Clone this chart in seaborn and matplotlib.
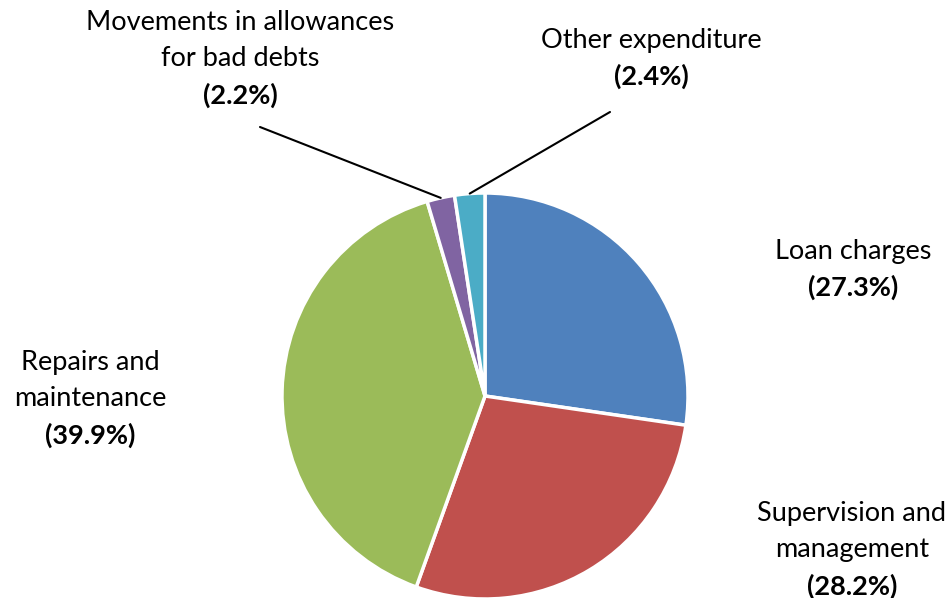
import numpy as np
import matplotlib
matplotlib.use("Agg")
import matplotlib.pyplot as plt
import seaborn as sns

sns.set_theme(style="white")
plt.rcParams["font.family"] = ["Lato", "DejaVu Sans"]

categories = ["Loan charges", "Supervision and\nmanagement", "Repairs and\nmaintenance",
              "Movements in allowances\nfor bad debts", "Other expenditure"]
shares = [27.3, 28.2, 39.9, 2.2, 2.4]
colors = ["#4F81BD", "#C0504D", "#9BBB59", "#8064A2", "#4BACC6"]

W, H = 953, 598
fig = plt.figure(figsize=(W / 100, H / 100), dpi=100)
ax = fig.add_axes([0, 0, 1, 1])

cx, cy, r = 485, H - 396, 203
wedges, _ = ax.pie(shares, colors=colors, startangle=90, counterclock=False,
                   center=(cx, cy), radius=r, frame=True,
                   wedgeprops=dict(edgecolor="white", linewidth=2.5))
ax.set_xlim(0, W)
ax.set_ylim(0, H)
ax.set_aspect("equal")
ax.axis("off")

# label placement: (x, y of first line in px from top, alignment, leader line start or None)
layout = [
    (853, 251, "center", None),
    (852, 513, "center", None),
    (90, 362, "center", None),
    (240, 22, "center", (260, 127)),
    (651, 40, "center", (610, 112)),
]
line_gap = 36.5
fs = 19.5
for (name, val, w, (x, y, ha, lead)) in zip(categories, shares, wedges, layout):
    lines = name.split("\n")
    for i, ln in enumerate(lines):
        ax.text(x, H - (y + i * line_gap), ln, ha=ha, va="center", fontsize=fs, color="black")
    ax.text(x, H - (y + len(lines) * line_gap), f"({val:.1f}%)", ha=ha, va="center",
            fontsize=fs, fontweight="bold", color="black")
    if lead is not None:
        mid = np.deg2rad((w.theta1 + w.theta2) / 2)
        ex, ey = cx + r * np.cos(mid), cy + r * np.sin(mid)
        ax.plot([lead[0], ex], [H - lead[1], ey], color="black", linewidth=1.5)

fig.savefig("out.png", dpi=100, facecolor="white")
